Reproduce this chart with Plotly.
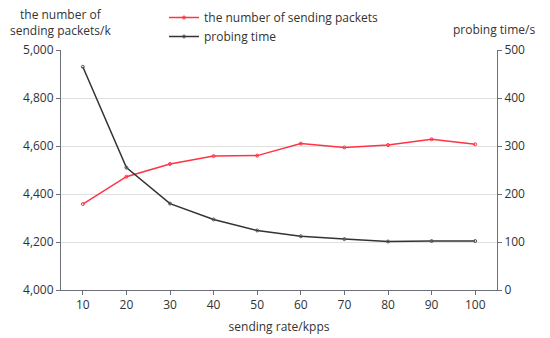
import plotly.graph_objects as go

rates = ["10", "20", "30", "40", "50", "60", "70", "80", "90", "100"]
packets = [4358, 4472, 4525, 4558, 4560, 4610, 4594, 4604, 4628, 4607]
probe_time = [465, 255, 180, 147, 124, 112, 106, 101, 102, 102]

font = "Open Sans, Noto Sans, sans-serif"
grey = "#6e7079"
txt = "#333333"

L, R, T, B = 61, 53, 50, 48
W, H = 550, 338
pw, ph = W - L - R, H - T - B

def px(x):
    return (x - L) / pw

def py(y):
    return (H - B - y) / ph

fig = go.Figure()
fig.add_trace(go.Scatter(
    x=rates, y=packets, name="the number of sending packets",
    mode="lines+markers", line=dict(color="#ff3344", width=1.5),
    marker=dict(symbol="circle-open", size=3, color="#ff3344"),
    yaxis="y"))
fig.add_trace(go.Scatter(
    x=rates, y=probe_time, name="probing time",
    mode="lines+markers", line=dict(color="#333333", width=1.5),
    marker=dict(symbol="circle-open", size=3, color="#555555"),
    yaxis="y2"))

fig.update_layout(
    width=W, height=H,
    margin=dict(l=L, r=R, t=T, b=B, autoexpand=False),
    paper_bgcolor="white", plot_bgcolor="white",
    font=dict(family=font, size=12, color=txt),
    showlegend=True,
    legend=dict(x=px(164), y=py(3), xanchor="left", yanchor="top",
                orientation="v", font=dict(size=12, color=txt), itemwidth=30,
                tracegroupgap=0, bgcolor="rgba(0,0,0,0)"),
    xaxis=dict(type="category", showgrid=False, showline=True, linecolor=grey,
               ticks="outside", ticklen=4, tickcolor=grey,
               tickfont=dict(size=12, color=txt),
               title=dict(text="sending rate/kpps", font=dict(size=12, color=txt), standoff=10),
               range=[-0.5, 9.5], zeroline=False),
    yaxis=dict(range=[4000, 5000], dtick=200, tickformat=",", showgrid=True,
               gridcolor="#e0e0e0", showline=True, linecolor=grey,
               ticks="outside", ticklen=4, tickcolor=grey,
               tickfont=dict(size=12, color=txt), zeroline=False),
    yaxis2=dict(range=[0, 500], dtick=100, overlaying="y", side="right",
                showgrid=False, showline=True, linecolor=grey,
                ticks="outside", ticklen=4, tickcolor=grey,
                tickfont=dict(size=12, color=txt), zeroline=False),
    annotations=[
        dict(text="the number of<br>sending packets/k", x=px(60), y=py(23), xref="paper", yref="paper",
             xanchor="center", yanchor="middle", showarrow=False, font=dict(size=12, color=txt)),
        dict(text="probing time/s", xref="paper", yref="paper", x=px(537), y=py(29),
             xanchor="right", yanchor="middle", showarrow=False, font=dict(size=12, color=txt)),
    ],
)

fig.write_html("out.html", config={"displayModeBar": False},
               post_script="document.body.style.margin='0';")
